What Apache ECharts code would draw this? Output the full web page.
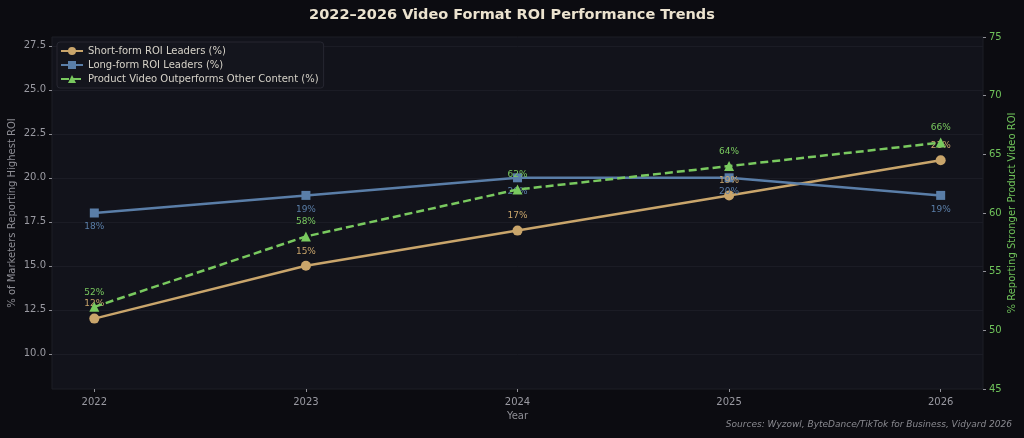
<!DOCTYPE html>
<html>
<head>
<meta charset="utf-8">
<script src="https://cdn.jsdelivr.net/npm/echarts@6/dist/echarts.min.js"></script>
<style>
  html, body { margin: 0; padding: 0; background: #0c0c11; }
  #main { width: 1024px; height: 438px; }
</style>
</head>
<body>
<div id="main"></div>
<script>
// years on the x axis
var years = [2022, 2023, 2024, 2025, 2026];
// left axis series (%)
var shortForm = [12, 15, 17, 19, 21];
var longForm = [18, 19, 20, 20, 19];
// right axis series (%)
var productVideo = [52, 58, 62, 64, 66];
// tick labels
var leftTicks = [10, 12.5, 15, 17.5, 20, 22.5, 25, 27.5];

var FONT = 'DejaVu Sans';

function pairs(values) {
    var d = [];
    for (var i = 0; i < years.length; i++) {
        d.push([years[i], values[i]]);
    }
    return d;
}

var chart = echarts.init(document.getElementById('main'));

var option = {
    backgroundColor: '#0c0c11',
    textStyle: { fontFamily: FONT },
    title: {
        text: '2022\u20132026 Video Format ROI Performance Trends',
        left: 'center',
        top: 3,
        textStyle: { color: '#ece3cf', fontSize: 14.5, fontWeight: 'bold', fontFamily: FONT }
    },
    legend: {
        orient: 'vertical',
        left: 57,
        top: 42,
        itemWidth: 22,
        itemHeight: 10,
        itemGap: 4,
        padding: [4, 5, 4, 3],
        backgroundColor: '#14151d',
        borderColor: '#262731',
        borderWidth: 1,
        borderRadius: 3,
        textStyle: { color: '#d6d2c8', fontSize: 10, fontFamily: FONT },
        data: ['Short-form ROI Leaders (%)', 'Long-form ROI Leaders (%)', 'Product Video Outperforms Other Content (%)']
    },
    grid: {
        left: 52,
        right: 41,
        top: 37,
        bottom: 49,
        outerBoundsMode: 'none',
        containLabel: false,
        show: true,
        backgroundColor: '#12131b',
        borderColor: '#1d1e27',
        borderWidth: 1
    },
    graphic: [{
        type: 'text',
        right: 12,
        top: 420,
        style: {
            text: 'Sources: Wyzowl, ByteDance/TikTok for Business, Vidyard 2026',
            fill: '#8a8a90',
            font: 'italic 9px "DejaVu Sans"'
        }
    }],
    xAxis: {
        type: 'value',
        min: 2021.8,
        max: 2026.2,
        name: 'Year',
        nameLocation: 'middle',
        nameGap: 22,
        nameTextStyle: { color: '#8f8f96', fontSize: 10 },
        axisLine: { show: false },
        axisTick: { show: true, customValues: years, length: 3, lineStyle: { color: '#8f8f96' } },
        axisLabel: {
            customValues: years,
            color: '#9a9aa2',
            fontSize: 10,
            margin: 8,
            formatter: function (v) { return String(v); }
        },
        splitLine: { show: false }
    },
    yAxis: [{
        type: 'value',
        min: 8,
        max: 28,
        position: 'left',
        name: '% of Marketers Reporting Highest ROI',
        nameLocation: 'middle',
        nameGap: 35,
        nameMoveOverlap: false,
        nameTextStyle: { color: '#8f8f96', fontSize: 10 },
        axisLine: { show: false },
        axisTick: { show: true, customValues: leftTicks, length: 3, lineStyle: { color: '#8f8f96' } },
        axisLabel: {
            customValues: leftTicks,
            color: '#9a9aa2',
            fontSize: 10,
            margin: 6,
            formatter: function (v) { return v.toFixed(1); }
        },
        splitLine: { show: true, lineStyle: { color: '#1b1c25', width: 1 } }
    }, {
        type: 'value',
        min: 45,
        max: 75,
        interval: 5,
        position: 'right',
        name: '% Reporting Stronger Product Video ROI',
        nameLocation: 'middle',
        nameGap: 24,
        nameMoveOverlap: false,
        nameRotate: 90,
        nameTextStyle: { color: '#6fc25a', fontSize: 10 },
        axisLine: { show: false },
        axisTick: { show: true, length: 3, lineStyle: { color: '#8f8f96' } },
        axisLabel: { color: '#6fc25a', fontSize: 10, margin: 6 },
        splitLine: { show: false }
    }],
    series: [{
        name: 'Short-form ROI Leaders (%)',
        type: 'line',
        yAxisIndex: 0,
        data: pairs(shortForm),
        symbol: 'circle',
        symbolSize: 10,
        lineStyle: { color: '#c9a56b', width: 2.5 },
        itemStyle: { color: '#c9a56b' },
        label: {
            show: true,
            position: 'top',
            distance: 5,
            color: '#c9a56b',
            fontSize: 9,
            formatter: function (p) { return p.value[1] + '%'; }
        },
        z: 3
    }, {
        name: 'Long-form ROI Leaders (%)',
        type: 'line',
        yAxisIndex: 0,
        data: pairs(longForm),
        symbol: 'rect',
        symbolSize: 9,
        lineStyle: { color: '#5a7ea8', width: 2.5 },
        itemStyle: { color: '#5a7ea8' },
        label: {
            show: true,
            position: 'bottom',
            distance: 5,
            color: '#5a7ea8',
            fontSize: 9,
            formatter: function (p) { return p.value[1] + '%'; }
        },
        z: 3
    }, {
        name: 'Product Video Outperforms Other Content (%)',
        type: 'line',
        yAxisIndex: 1,
        data: pairs(productVideo),
        symbol: 'triangle',
        symbolSize: 10,
        lineStyle: { color: '#79c95f', width: 2.5, type: [8, 4] },
        itemStyle: { color: '#79c95f' },
        label: {
            show: true,
            position: 'top',
            distance: 5,
            color: '#79c95f',
            fontSize: 9,
            formatter: function (p) { return p.value[1] + '%'; }
        },
        z: 4
    }]
};

chart.setOption(option);
</script>
</body>
</html>
